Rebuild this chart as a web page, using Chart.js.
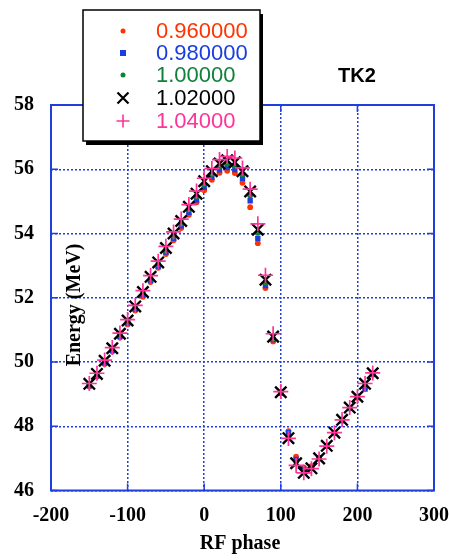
<!DOCTYPE html>
<html>
<head>
<meta charset="utf-8">
<script src="https://cdn.jsdelivr.net/npm/chart.js@4/dist/chart.umd.min.js"></script>
<style>
  body { margin: 0; background: #fff; }
  #wrap { width: 449px; height: 560px; }
</style>
</head>
<body>
<div id="wrap"><canvas id="tk2" width="449" height="560"></canvas></div>
<script>
// RF phase scan, TK2
var phase = [-150, -140, -130, -120, -110, -100, -90, -80, -70, -60, -50, -40, -30, -20, -10,
             0, 10, 20, 30, 40, 50, 60, 70, 80, 90, 100, 110, 120, 130, 140, 150, 160, 170,
             180, 190, 200, 210, 220];

var e096 = [49.24, 49.55, 49.94, 50.33, 50.76, 51.17, 51.60, 52.03, 52.49, 52.93, 53.36, 53.79, 54.17, 54.58, 54.97,
            55.35, 55.67, 55.89, 55.95, 55.88, 55.58, 54.82, 53.70, 52.30, 50.64, 49.03, 47.85, 47.05, 46.72, 46.76,
            47.02, 47.38, 47.78, 48.17, 48.55, 48.89, 49.20, 49.60];
var e098 = [49.26, 49.57, 49.97, 50.36, 50.80, 51.21, 51.64, 52.08, 52.54, 52.98, 53.42, 53.85, 54.24, 54.66, 55.05,
            55.44, 55.76, 55.98, 56.05, 55.99, 55.72, 55.02, 53.85, 52.38, 50.70, 49.04, 47.80, 46.97, 46.66, 46.72,
            47.00, 47.38, 47.78, 48.18, 48.56, 48.90, 49.16, 49.62];
var e100 = [49.30, 49.61, 50.01, 50.40, 50.85, 51.26, 51.70, 52.14, 52.60, 53.05, 53.49, 53.93, 54.32, 54.75, 55.15,
            55.54, 55.85, 56.08, 56.17, 56.11, 55.84, 55.18, 54.02, 52.47, 50.72, 49.05, 47.68, 46.90, 46.58, 46.70,
            47.00, 47.39, 47.79, 48.19, 48.57, 48.91, 49.28, 49.63];
var e102 = [49.32, 49.63, 50.04, 50.43, 50.88, 51.29, 51.73, 52.18, 52.65, 53.10, 53.55, 54.00, 54.39, 54.83, 55.24,
            55.63, 55.94, 56.18, 56.28, 56.22, 55.94, 55.31, 54.12, 52.56, 50.79, 49.06, 47.63, 46.85, 46.55, 46.69,
            47.00, 47.39, 47.80, 48.20, 48.58, 48.92, 49.32, 49.65];
var e104 = [49.33, 49.65, 50.06, 50.45, 50.90, 51.32, 51.76, 52.22, 52.69, 53.14, 53.60, 54.05, 54.45, 54.90, 55.32,
            55.72, 56.02, 56.30, 56.40, 56.35, 56.04, 55.38, 54.30, 52.70, 50.88, 49.08, 47.62, 46.78, 46.55, 46.68,
            46.98, 47.38, 47.80, 48.20, 48.58, 48.92, 49.33, 49.66];

var seriesNames = ['0.960000', '0.980000', '1.00000', '1.02000', '1.04000'];
var seriesColors = ['#ff3300', '#1a3de0', '#10803a', '#000000', '#ff3399'];
var xTicks = [-200, -100, 0, 100, 200, 300];
var yTicks = [46, 48, 50, 52, 54, 56, 58];

var blue = '#1f3fe0';

function pts(ys) {
    return phase.map(function (x, i) { return { x: x, y: ys[i] }; });
}

// frame, inner tick marks, legend box and the loose texts
var decor = {
    id: 'decor',
    afterDraw: function (chart) {
        var c = chart.ctx, a = chart.chartArea;
        var xs = chart.scales.x, ys = chart.scales.y;
        c.save();
        c.strokeStyle = blue;
        c.lineWidth = 2;
        c.strokeRect(a.left, a.top, a.right - a.left, a.bottom - a.top);
        c.lineWidth = 1.5;
        c.beginPath();
        xTicks.forEach(function (v) {
            var px = xs.getPixelForValue(v);
            c.moveTo(px, a.bottom); c.lineTo(px, a.bottom - 7);
            c.moveTo(px, a.top); c.lineTo(px, a.top + 7);
        });
        yTicks.forEach(function (v) {
            var py = ys.getPixelForValue(v);
            c.moveTo(a.left, py); c.lineTo(a.left + 7, py);
            c.moveTo(a.right, py); c.lineTo(a.right - 7, py);
        });
        c.stroke();

        // axis titles
        c.fillStyle = '#000';
        c.font = 'bold 20px "Liberation Serif"';
        c.textAlign = 'center';
        c.textBaseline = 'middle';
        c.fillText('RF phase', 240, 544);
        c.save();
        c.translate(75, 305);
        c.rotate(-Math.PI / 2);
        c.fillText('Energy (MeV)', 0, 0);
        c.restore();

        c.font = 'bold 20px "Liberation Sans"';
        c.fillText('TK2', 357, 76);

        // legend
        var bx = 83, by = 10, bw = 177, bh = 131;
        c.fillStyle = '#000';
        c.fillRect(bx + 3, by + 4, bw, bh);
        c.fillStyle = '#fff';
        c.fillRect(bx, by, bw, bh);
        c.strokeStyle = '#000';
        c.lineWidth = 1.5;
        c.strokeRect(bx, by, bw, bh);
        var rows = [31, 53, 75, 98, 121];
        c.font = '22px "Liberation Sans"';
        c.textAlign = 'left';
        rows.forEach(function (ry, i) {
            var sx = 123, col = seriesColors[i];
            c.fillStyle = col; c.strokeStyle = col;
            if (i === 0 || i === 2) {
                c.beginPath(); c.arc(sx, ry, 2.5, 0, Math.PI * 2); c.fill();
            } else if (i === 1) {
                c.fillRect(sx - 3, ry - 3, 6, 6);
            } else if (i === 3) {
                c.lineWidth = 2.2;
                c.beginPath();
                c.moveTo(sx - 5.5, ry - 5.5); c.lineTo(sx + 5.5, ry + 5.5);
                c.moveTo(sx + 5.5, ry - 5.5); c.lineTo(sx - 5.5, ry + 5.5);
                c.stroke();
            } else {
                c.lineWidth = 1.6;
                c.beginPath();
                c.moveTo(sx - 6.5, ry); c.lineTo(sx + 6.5, ry);
                c.moveTo(sx, ry - 6.5); c.lineTo(sx, ry + 6.5);
                c.stroke();
            }
            c.fillText(seriesNames[i], 156, ry + 1);
        });
        c.restore();
    }
};

var ctx = document.getElementById('tk2');
var chart = new Chart(ctx, {
    type: 'scatter',
    data: {
        datasets: [
            { label: seriesNames[0], data: pts(e096), order: 4, pointStyle: 'circle', pointRadius: 2.9,
              backgroundColor: seriesColors[0], borderColor: seriesColors[0], borderWidth: 0 },
            { label: seriesNames[1], data: pts(e098), order: 3, pointStyle: 'rect', pointRadius: 3.8,
              backgroundColor: seriesColors[1], borderColor: seriesColors[1], borderWidth: 0 },
            { label: seriesNames[2], data: pts(e100), order: 2, pointStyle: 'circle', pointRadius: 2.9,
              backgroundColor: seriesColors[2], borderColor: seriesColors[2], borderWidth: 0 },
            { label: seriesNames[3], data: pts(e102), order: 1, pointStyle: 'crossRot', pointRadius: 8,
              backgroundColor: seriesColors[3], borderColor: seriesColors[3], borderWidth: 2.4 },
            { label: seriesNames[4], data: pts(e104), order: 0, pointStyle: 'cross', pointRadius: 7.5,
              backgroundColor: seriesColors[4], borderColor: seriesColors[4], borderWidth: 1.7 }
        ]
    },
    options: {
        responsive: false,
        animation: false,
        events: [],
        layout: { padding: { left: 0, right: 15, top: 105, bottom: 0 } },
        plugins: { legend: { display: false }, tooltip: { enabled: false } },
        scales: {
            x: {
                type: 'linear', min: -200, max: 300,
                afterFit: function (s) { s.height = 69.5; s.paddingLeft = 0; s.paddingRight = 0; },
                afterBuildTicks: function (s) { s.ticks = xTicks.map(function (v) { return { value: v }; }); },
                ticks: { color: '#000', padding: 13, maxRotation: 0,
                         font: { family: '"Liberation Serif"', size: 20, weight: 'bold' } },
                grid: { color: blue, lineWidth: 1.5, drawTicks: false },
                border: { display: false }
            },
            y: {
                type: 'linear', min: 46, max: 58,
                afterFit: function (s) { s.width = 51; s.paddingTop = 0; s.paddingBottom = 0; },
                afterBuildTicks: function (s) { s.ticks = yTicks.map(function (v) { return { value: v }; }); },
                ticks: { color: '#000', padding: 17,
                         font: { family: '"Liberation Serif"', size: 20, weight: 'bold' } },
                grid: { color: blue, lineWidth: 1.5, drawTicks: false },
                border: { display: false }
            }
        }
    },
    plugins: [decor]
});
// dotted grid, as in the printout
chart.options.scales.x.grid.tickBorderDash = [2, 2];
chart.options.scales.y.grid.tickBorderDash = [2, 2];
chart.options.scales.x.border.dash = [2, 2];
chart.options.scales.y.border.dash = [2, 2];
chart.update();
</script>
</body>
</html>
